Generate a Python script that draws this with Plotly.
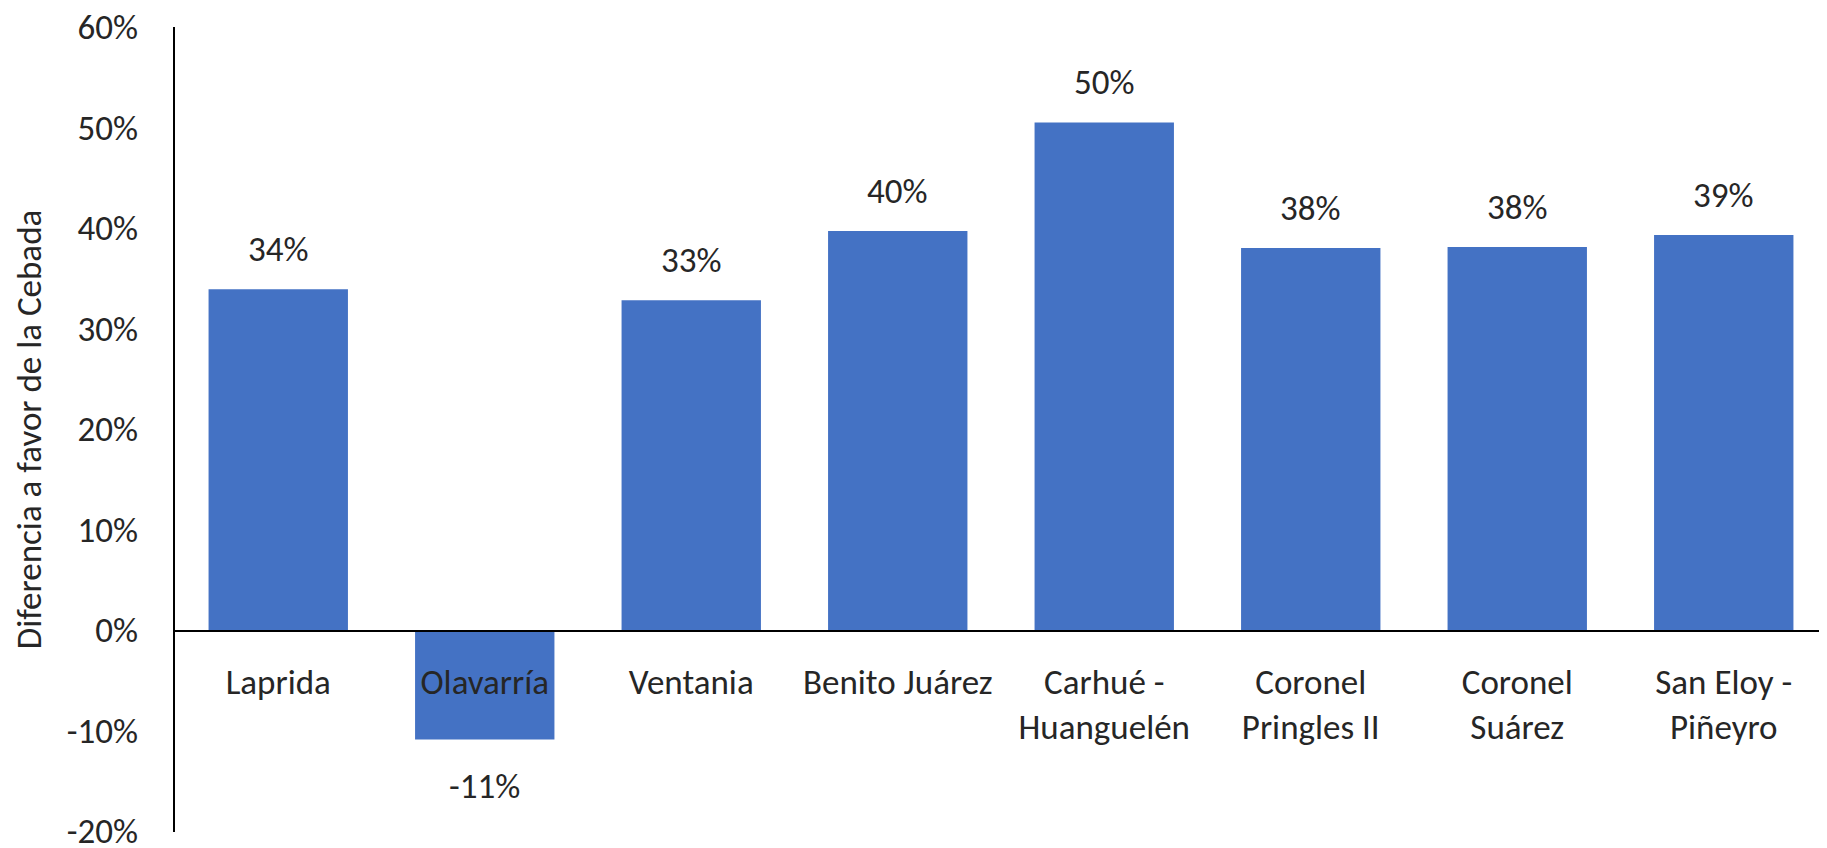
import plotly.graph_objects as go

# Datos
categorias = [
    "Laprida", "Olavarría", "Ventania", "Benito Juárez",
    "Carhué -<br>Huanguelén", "Coronel<br>Pringles II", "Coronel<br>Suárez",
    "San Eloy -<br>Piñeyro",
]
diferencia = [0.339, -0.109, 0.328, 0.397, 0.505, 0.380, 0.381, 0.393]
tick_vals = [-0.2, -0.1, 0.0, 0.1, 0.2, 0.3, 0.4, 0.5, 0.6]
tick_text = ["-20%", "-10%", "0%", "10%", "20%", "30%", "40%", "50%", "60%"]

FONT = "Carlito, Calibri, Lato, sans-serif"
TXT = "#262626"
FS = 35

fig = go.Figure(
    go.Bar(
        x=categorias, y=diferencia,
        marker=dict(color="#4472C4", line=dict(width=0)),
        hoverinfo="skip",
    )
)

# Etiquetas de datos por encima / debajo de cada barra
for c, v in zip(categorias, diferencia):
    fig.add_annotation(
        x=c, y=v, text=f"{round(v * 100):.0f}%",
        showarrow=False, yshift=40 if v >= 0 else -46,
        font=dict(family=FONT, size=FS, color=TXT),
    )

# la página tiene 8 px de margen en el body: el lienzo mide 1819x840
fig.update_layout(
    width=1819, height=840,
    margin=dict(l=167, r=0, t=19, b=16),
    plot_bgcolor="white", paper_bgcolor="white",
    bargap=0.325,
    showlegend=False,
    font=dict(family=FONT, size=FS, color=TXT),
)
fig.update_yaxes(
    range=[-0.201, 0.6], tickvals=tick_vals, ticktext=tick_text,
    showgrid=False, zeroline=False, automargin=False,
    showline=True, linecolor="black", linewidth=2,
    ticks="", ticklabelstandoff=28, ticklabeloverflow="allow",
    tickfont=dict(family=FONT, size=FS, color=TXT),
    title=dict(text="Diferencia a favor de la Cebada",
               font=dict(family=FONT, size=FS, color=TXT), standoff=16),
)
fig.update_xaxes(
    anchor="free", position=0.25, automargin=False,
    showline=True, linecolor="black", linewidth=2,
    showgrid=False, ticks="", ticklabelstandoff=20,
    tickfont=dict(family=FONT, size=FS, color=TXT),
)

fig.write_html("out.html")
